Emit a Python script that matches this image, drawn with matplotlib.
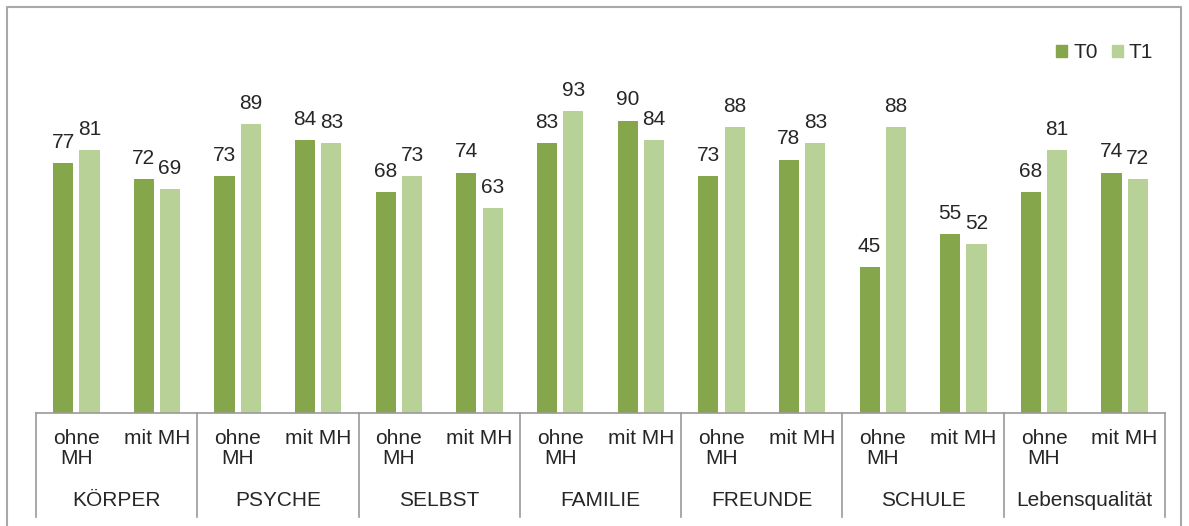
import numpy as np
import matplotlib.pyplot as plt
from matplotlib.patches import Patch
from matplotlib.lines import Line2D
import matplotlib.transforms as mtransforms

plt.rcParams['font.family'] = ['Liberation Sans', 'DejaVu Sans']

# data
groups = ['KÖRPER', 'PSYCHE', 'SELBST', 'FAMILIE', 'FREUNDE', 'SCHULE', 'Lebensqualität']
subgroups = ['ohne\nMH', 'mit MH']
t0 = [77, 72, 73, 84, 68, 74, 83, 90, 73, 78, 45, 55, 68, 74]
t1 = [81, 69, 89, 83, 73, 63, 93, 84, 88, 83, 88, 52, 81, 72]

c_t0 = '#86A64B'
c_t1 = '#B8D197'
grey = '#9A9A9A'
txt = '#262626'
fs = 15

W, H = 1189, 526
fig = plt.figure(figsize=(W / 100, H / 100), dpi=100)
# axes placed in pixel terms: x 36..1165, baseline y=413, top (100) at y=88
ax = fig.add_axes([36 / W, (H - 413) / H, (1165 - 36) / W, (413 - 88) / H])

x = np.arange(len(t0)) + 0.5
bw = 0.25
off = 0.163
b0 = ax.bar(x - off, t0, bw, color=c_t0, label='T0')
b1 = ax.bar(x + off, t1, bw, color=c_t1, label='T1')

for bars in (b0, b1):
    for r in bars:
        ax.annotate(str(int(r.get_height())), (r.get_x() + r.get_width() / 2, r.get_height()),
                    xytext=(0, 8), textcoords='offset points', ha='center', va='bottom',
                    fontsize=fs, color=txt)

ax.set_xlim(0, len(t0))
ax.set_ylim(0, 100)
ax.set_xticks([])
ax.set_yticks([])
for s in ['top', 'left', 'right']:
    ax.spines[s].set_visible(False)
ax.spines['bottom'].set_color(grey)
ax.spines['bottom'].set_linewidth(1.2)

trans = mtransforms.blended_transform_factory(ax.transData, ax.transAxes)
px = 1 / 325  # one pixel in axes fraction (vertical)

# dividers between groups
for g in range(len(groups) + 1):
    ax.add_line(Line2D([2 * g, 2 * g], [0, -104 * px], transform=trans,
                       color=grey, lw=1.2, clip_on=False))

# category labels
for i in range(len(t0)):
    ax.text(x[i], -16 * px, subgroups[i % 2], transform=trans, ha='center', va='top',
            fontsize=fs, color=txt, linespacing=1.1)

# group labels
for g, name in enumerate(groups):
    ax.text(2 * g + 1, -88 * px, name, transform=trans, ha='center', va='center',
            fontsize=fs, color=txt)

# legend
handles = [Patch(color=c_t0, label='T0'), Patch(color=c_t1, label='T1')]
fig.legend(handles=handles, loc='center right', bbox_to_anchor=(1172 / W, (H - 53) / H),
           ncol=2, frameon=False, fontsize=fs, handlelength=0.5, handleheight=0.5,
           handletextpad=0.3, columnspacing=0.7, labelcolor=txt)

# outer frame of the chart
fig.add_artist(Line2D([7 / W, 7 / W, 1181 / W, 1181 / W], [0, (H - 7) / H, (H - 7) / H, 0],
                      transform=fig.transFigure, color='#A8A8A8', lw=1.5))

fig.savefig('out.png', dpi=100)
